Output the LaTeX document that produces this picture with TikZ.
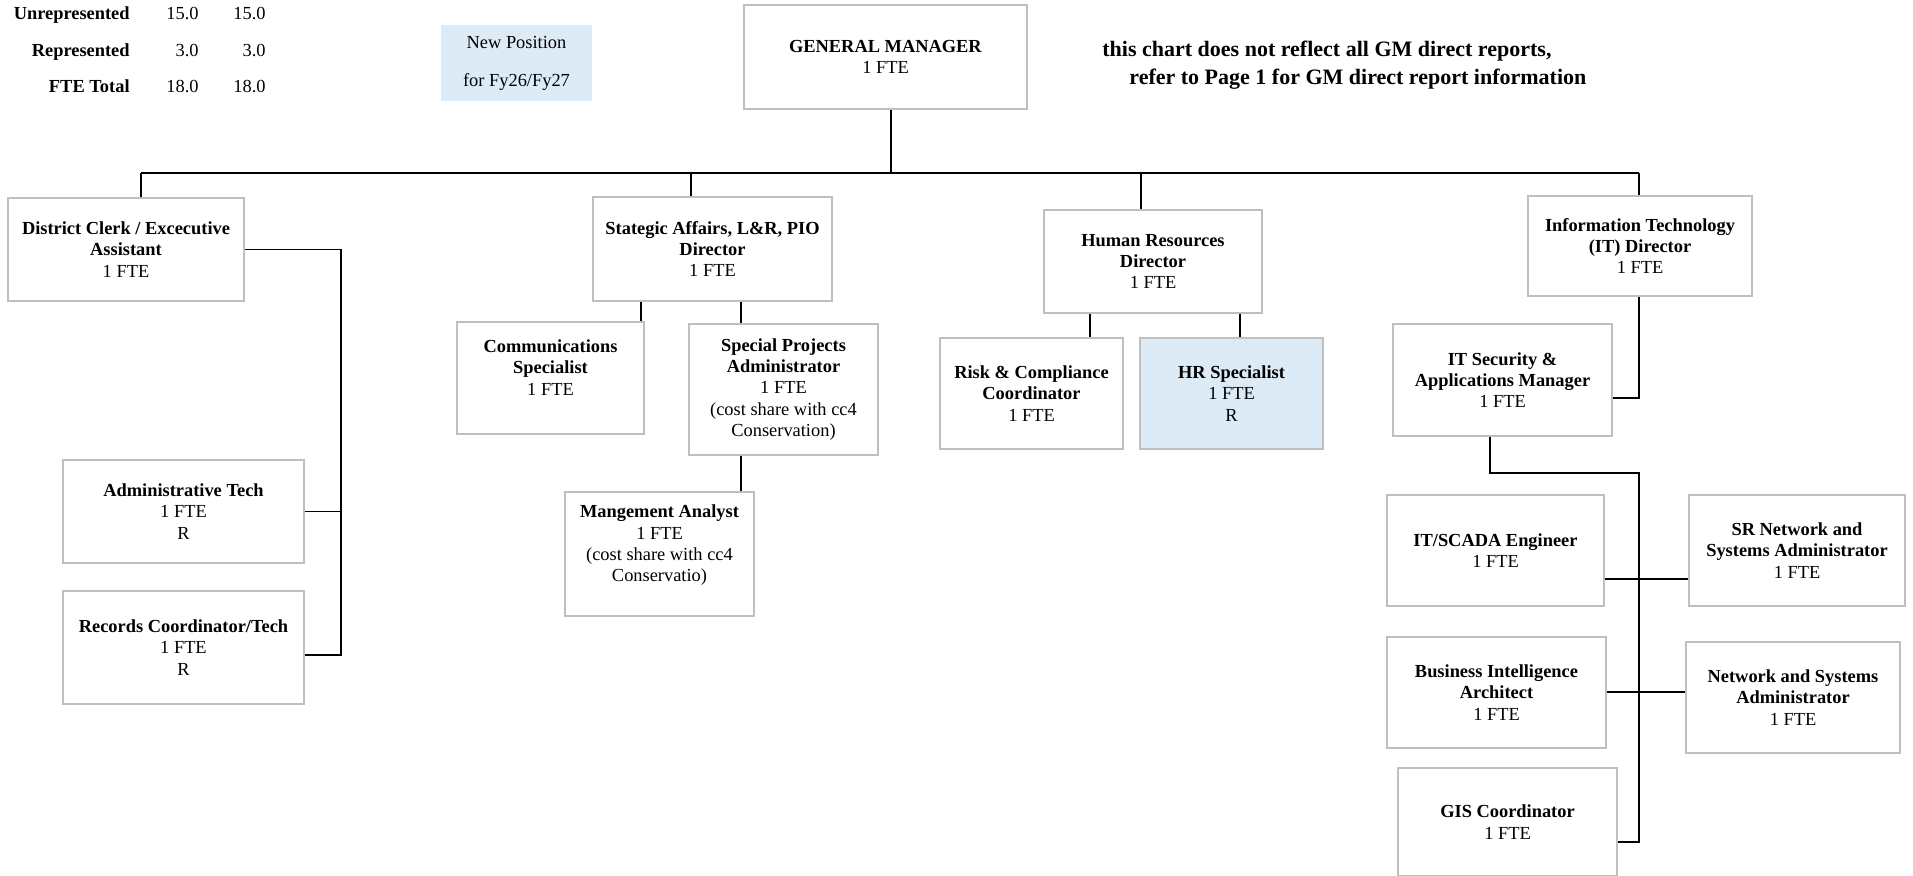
\documentclass[tikz,border=0pt]{standalone}
\usepackage{fontspec}
\setmainfont{Liberation Serif}
\definecolor{boxgray}{RGB}{191,191,191}
\definecolor{newblue}{RGB}{221,235,247}

\begin{document}
\begin{tikzpicture}[x=0.5pt,y=-0.5pt,
    box/.style={draw=boxgray, line width=0.6pt, fill=white, align=center,
                inner sep=0pt, font=\fontsize{9.2}{10.65}\selectfont},
    newbox/.style={box, fill=newblue},
    link/.style={line width=0.9pt, black},
    tally/.style={inner sep=0pt, anchor=base east, font=\fontsize{9.2}{11}\selectfont},
    note/.style={inner sep=0pt, anchor=base west, font=\fontsize{11}{14}\selectfont\bfseries}]
  \useasboundingbox (0,0) rectangle (1913,875);

  % FTE tally
  \node[tally] (unrep)  at (130,19.5) {\textbf{Unrepresented}};
  \node[tally] (rep)    at (130,56)   {\textbf{Represented}};
  \node[tally] (fte)    at (130,92.5) {\textbf{FTE Total}};
  \node[tally] (unrepA) at (199,19.5) {15.0};
  \node[tally] (unrepB) at (266,19.5) {15.0};
  \node[tally] (repA)   at (199,56)   {3.0};
  \node[tally] (repB)   at (266,56)   {3.0};
  \node[tally] (fteA)   at (199,92.5) {18.0};
  \node[tally] (fteB)   at (266,92.5) {18.0};

  % legend and note
  \node[newbox, draw=none, minimum width=75.5pt, minimum height=38pt,
        font=\fontsize{9.2}{19}\selectfont] (legend) at (516.5,63) {New Position\\for Fy26/Fy27};
  \node[note] (note1) at (1102,56) {this chart does not reflect all GM direct reports,};
  \node[note] (note2) at (1129,84) {refer to Page 1 for GM direct report information};

  % top level
  \node[box, minimum width=141.5pt, minimum height=52pt] (gm) at (885.5,57)
    {\textbf{GENERAL MANAGER}\\1 FTE};

  \node[box, minimum width=118pt, minimum height=51.5pt] (clerk) at (126,249.5)
    {\textbf{District Clerk / Excecutive}\\\textbf{Assistant}\\1 FTE};
  \node[box, minimum width=119.5pt, minimum height=52pt] (strat) at (712.5,249)
    {\textbf{Stategic Affairs, L\&R, PIO}\\\textbf{Director}\\1 FTE};
  \node[box, minimum width=109pt, minimum height=51.5pt] (hrdir) at (1153,261.5)
    {\textbf{Human Resources}\\\textbf{Director}\\1 FTE};
  \node[box, minimum width=112pt, minimum height=50pt] (itdir) at (1640,246)
    {\textbf{Information Technology}\\\textbf{(IT) Director}\\1 FTE};

  % clerk reports
  \node[box, minimum width=120.5pt, minimum height=51.5pt] (admin) at (183.5,511.5)
    {\textbf{Administrative Tech}\\1 FTE\\R};
  \node[box, minimum width=120.5pt, minimum height=56.5pt] (records) at (183.5,647.5)
    {\textbf{Records Coordinator/Tech}\\1 FTE\\R};

  % strategic affairs reports
  \node[box, minimum width=93.5pt, minimum height=56pt] (comm) at (550.5,378)
    {\textbf{Communications}\\\textbf{Specialist}\\1 FTE\\~};
  \node[box, minimum width=94.5pt, minimum height=65.5pt] (special) at (783.5,389.5)
    {\textbf{Special Projects}\\\textbf{Administrator}\\1 FTE\\(cost share with cc4\\Conservation)};
  \node[box, minimum width=94.5pt, minimum height=62pt] (mgmt) at (659.5,554)
    {\textbf{Mangement Analyst}\\1 FTE\\(cost share with cc4\\Conservatio)\\~};

  % hr reports
  \node[box, minimum width=91.5pt, minimum height=55.5pt] (risk) at (1031.5,393.5)
    {\textbf{Risk \& Compliance}\\\textbf{Coordinator}\\1 FTE};
  \node[newbox, minimum width=91.5pt, minimum height=55.5pt] (hrspec) at (1231.5,393.5)
    {\textbf{HR Specialist}\\1 FTE\\R};

  % it reports
  \node[box, minimum width=109.5pt, minimum height=56pt] (itsec) at (1502.5,380)
    {\textbf{IT Security \&}\\\textbf{Applications Manager}\\1 FTE};
  \node[box, minimum width=108.5pt, minimum height=55.5pt] (scada) at (1495.5,550.5)
    {\textbf{IT/SCADA Engineer}\\1 FTE};
  \node[box, minimum width=108pt, minimum height=55.5pt] (srnet) at (1797,550.5)
    {\textbf{SR Network and}\\\textbf{Systems Administrator}\\1 FTE};
  \node[box, minimum width=109.5pt, minimum height=55.5pt] (bi) at (1496.5,692.5)
    {\textbf{Business Intelligence}\\\textbf{Architect}\\1 FTE};
  \node[box, minimum width=107pt, minimum height=55.5pt] (nsa) at (1793,697.5)
    {\textbf{Network and Systems}\\\textbf{Administrator}\\1 FTE};
  \node[box, minimum width=109.5pt, minimum height=54pt] (gis) at (1507.5,822)
    {\textbf{GIS Coordinator}\\1 FTE};

  % main bus
  \coordinate (busL) at (141,173);
  \coordinate (busS) at (691,173);
  \coordinate (busG) at (891,173);
  \coordinate (busH) at (1141,173);
  \coordinate (busR) at (1639,173);
  \draw[link] (busL) -- (busR);
  \draw[link] (busG |- gm.south) -- (busG);
  \draw[link] (busL) -- (busL |- clerk.north);
  \draw[link] (busS) -- (busS |- strat.north);
  \draw[link] (busH) -- (busH |- hrdir.north);
  \draw[link] (busR) -- (busR |- itdir.north);

  % clerk branch
  \coordinate (clerkbar) at (341,249.5);
  \coordinate (clerkfoot) at (341,655);
  \draw[link] (clerk.east) -- (clerkbar) -- (clerkfoot) -- (clerkfoot -| records.east);
  \draw[link] (admin.east) -- (admin.east -| clerkbar);

  % strategic branch
  \coordinate (sc) at (641,301);
  \coordinate (ss) at (741,301);
  \draw[link] (sc |- strat.south) -- (sc |- comm.north);
  \draw[link] (ss |- strat.south) -- (ss |- special.north);
  \draw[link] (ss |- special.south) -- (ss |- mgmt.north);

  % hr branch
  \coordinate (hr1) at (1090,313);
  \coordinate (hr2) at (1240,313);
  \draw[link] (hr1 |- hrdir.south) -- (hr1 |- risk.north);
  \draw[link] (hr2 |- hrdir.south) -- (hr2 |- hrspec.north);

  % it branch
  \coordinate (itbend) at (1639,398);
  \coordinate (itknee) at (1490,473);
  \coordinate (ittop) at (1639,473);
  \coordinate (itbot) at (1639,842);
  \draw[link] (itbend |- itdir.south) -- (itbend) -- (itbend -| itsec.east);
  \draw[link] (itknee |- itsec.south) -- (itknee) -- (ittop) -- (itbot) -- (itbot -| gis.east);
  \coordinate (j1) at (1639,579);
  \coordinate (j2) at (1639,692);
  \draw[link] (j1 -| scada.east) -- (j1 -| srnet.west);
  \draw[link] (j2 -| bi.east) -- (j2 -| nsa.west);
\end{tikzpicture}
\end{document}
